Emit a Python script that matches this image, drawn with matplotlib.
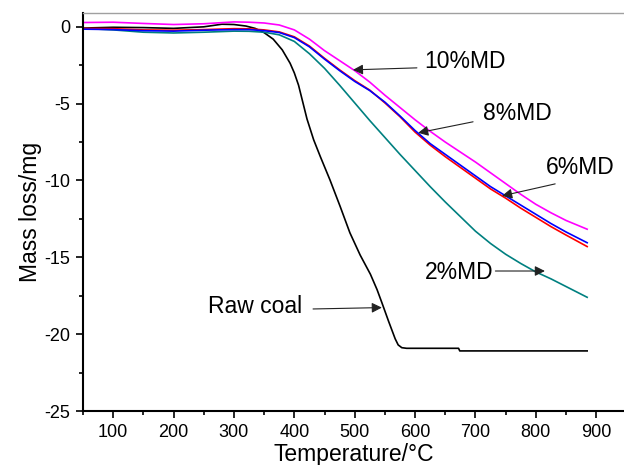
import matplotlib
matplotlib.use("Agg")
import matplotlib.pyplot as plt
from matplotlib.ticker import MultipleLocator

plt.rcParams['font.family'] = ['Liberation Sans', 'DejaVu Sans']
plt.rcParams['axes.unicode_minus'] = False

# ---- data ----
t_md = [50, 100, 150, 200, 250, 300, 325, 350, 375, 400, 425, 450, 475, 500, 525,
        550, 575, 600, 625, 650, 675, 700, 725, 750, 775, 800, 825, 850, 885]

md10 = [0.28, 0.30, 0.22, 0.15, 0.20, 0.32, 0.30, 0.25, 0.12, -0.20, -0.80, -1.55, -2.20,
        -2.85, -3.60, -4.45, -5.25, -6.05, -6.80, -7.50, -8.15, -8.80, -9.50,
        -10.20, -10.90, -11.55, -12.10, -12.60, -13.17]
md8 = [-0.15, -0.18, -0.25, -0.28, -0.22, -0.18, -0.18, -0.25, -0.37, -0.70, -1.30, -2.10,
       -2.85, -3.55, -4.15, -4.90, -5.80, -6.75, -7.60, -8.30, -9.00, -9.70,
       -10.40, -11.00, -11.60, -12.20, -12.80, -13.35, -14.05]
md6 = [-0.10, -0.12, -0.20, -0.22, -0.18, -0.12, -0.13, -0.20, -0.33, -0.65, -1.25, -2.05,
       -2.80, -3.50, -4.12, -4.95, -5.85, -6.85, -7.70, -8.45, -9.15, -9.85,
       -10.55, -11.15, -11.80, -12.40, -13.00, -13.55, -14.30]
md2 = [-0.10, -0.20, -0.35, -0.40, -0.35, -0.28, -0.29, -0.35, -0.52, -0.95, -1.75, -2.70,
       -3.80, -4.95, -6.10, -7.20, -8.30, -9.35, -10.40, -11.40, -12.35, -13.30,
       -14.10, -14.80, -15.40, -15.95, -16.40, -16.90, -17.60]

t_raw = [50, 100, 150, 200, 250, 280, 300, 320, 335, 350, 365, 380, 393, 400, 407,
         414, 421, 432, 443, 459, 476, 492, 509, 526, 537, 545, 556, 567, 572,
         578, 586, 600, 672, 674, 885]
raw = [-0.08, -0.03, -0.05, -0.10, 0.00, 0.17, 0.15, 0.05, -0.10, -0.38, -0.80,
       -1.50, -2.37, -3.00, -3.80, -4.90, -6.00, -7.35, -8.44, -9.96, -11.70,
       -13.40, -14.85, -16.10, -17.10, -17.95, -19.15, -20.30, -20.70, -20.88,
       -20.92, -20.92, -20.92, -21.09, -21.09]

x_ticks = [100, 200, 300, 400, 500, 600, 700, 800, 900]
y_ticks = [0, -5, -10, -15, -20, -25]

# labels: (text, text_x, text_y, tail_x, tail_y, tip_x, tip_y)
labels = [
    ("10%MD", 616, -2.28, 603, -2.67, 497, -2.80),
    ("8%MD", 712, -5.66, 696, -6.18, 605, -6.90),
    ("6%MD", 817, -9.18, 832, -10.22, 744, -11.00),
    ("2%MD", 616, -16.0, 733, -15.89, 815, -15.89),
    ("Raw coal", 257, -18.23, 431, -18.36, 545, -18.27),
]

fig = plt.figure(figsize=(6.24, 4.65), dpi=100)
ax = fig.add_axes([83/624, 1-411/465, 1-83/624, 398/465])

lw = 1.2
ax.plot(t_raw, raw, color='black', lw=lw)
ax.plot(t_md, md2, color='#008080', lw=lw)
ax.plot(t_md, md6, color='#ff0000', lw=lw)
ax.plot(t_md, md8, color='#0000ff', lw=lw)
ax.plot(t_md, md10, color='#ff00ff', lw=lw)

for txt, tx, ty, ax0, ay0, ax1, ay1 in labels:
    ax.text(tx, ty, txt, fontsize=16.5, ha='left', va='center')
    ax.annotate('', xy=(ax1, ay1), xytext=(ax0, ay0),
                arrowprops=dict(arrowstyle='-|>', color='#222222', lw=0.8,
                                mutation_scale=15, shrinkA=0, shrinkB=0))

ax.set_xlim(50, 946)
ax.set_ylim(-25, 0.9)
ax.set_xticks(x_ticks)
ax.set_yticks(y_ticks)
ax.xaxis.set_minor_locator(MultipleLocator(50))
ax.yaxis.set_minor_locator(MultipleLocator(2.5))
ax.tick_params(which='major', direction='out', length=5, width=1.2, labelsize=13, pad=4)
ax.tick_params(which='minor', direction='out', length=3, width=1.2)
ax.tick_params(top=False, right=False)

ax.spines['right'].set_visible(False)
ax.spines['top'].set_color('#a0a0a0')
ax.spines['top'].set_linewidth(1.0)
ax.spines['left'].set_linewidth(1.5)
ax.spines['bottom'].set_linewidth(1.5)

ax.set_xlabel('Temperature/°C', fontsize=16.5, labelpad=2)
ax.set_ylabel('Mass loss/mg', fontsize=16.5, labelpad=2)

fig.savefig('out.png', dpi=100)
